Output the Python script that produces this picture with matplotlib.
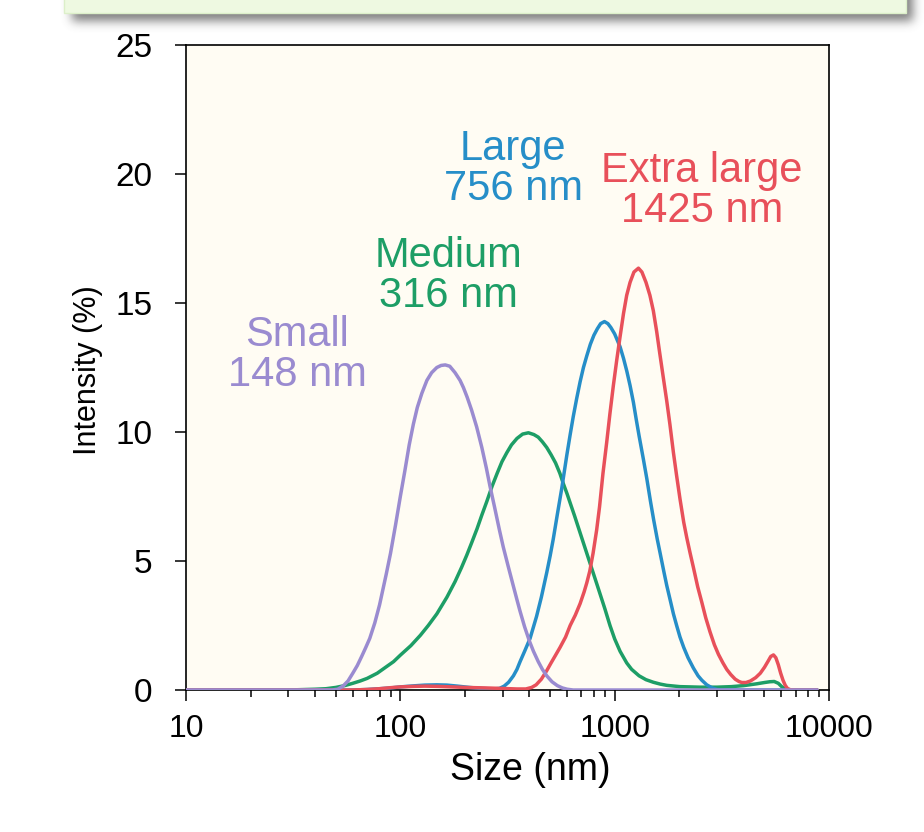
import numpy as np
import matplotlib
matplotlib.use("Agg")
import matplotlib.pyplot as plt
from matplotlib.patches import Rectangle
from matplotlib.ticker import FixedLocator, LogLocator, NullFormatter

plt.rcParams['font.family'] = ['Liberation Sans', 'DejaVu Sans']

# Size distributions by intensity (DLS), size in nm, intensity in %
small_size = [10, 40, 48, 51, 54, 57, 60, 63, 66, 69, 72, 76, 80, 86, 90, 95, 100, 105, 110,
              115, 120, 126, 133, 140, 148, 155, 162, 170, 180, 190, 197, 205, 215, 227, 240,
              252, 262, 275, 290, 302, 318, 335, 350, 362, 380, 400, 418, 440, 460, 482, 510,
              540, 570, 600, 640, 8800]
small_int = [0, 0, 0, 0.03, 0.15, 0.35, 0.65, 0.95, 1.3, 1.65, 2.0, 2.6, 3.3, 4.5, 5.3, 6.4,
             7.5, 8.5, 9.5, 10.3, 10.95, 11.5, 12.0, 12.3, 12.5, 12.58, 12.6, 12.55, 12.3,
             12.0, 11.72, 11.35, 10.85, 10.2, 9.4, 8.6, 7.9, 7.1, 6.2, 5.55, 4.82, 4.1, 3.5,
             3.05, 2.45, 1.9, 1.5, 1.1, 0.8, 0.55, 0.32, 0.17, 0.08, 0.03, 0, 0]

medium_size = [10, 30, 40, 45, 50, 55, 60, 65, 70, 78, 86, 93, 100, 112, 124, 135, 148, 165,
               180, 193, 204, 215, 228, 240, 253, 268, 283, 298, 314, 330, 350, 372, 396, 420,
               440, 460, 482, 505, 530, 555, 576, 600, 620, 650, 677, 720, 767, 830, 900, 951,
               1000, 1060, 1138, 1200, 1300, 1400, 1515, 1630, 1750, 2018, 2500, 3000, 3500,
               4000, 4600, 5000, 5300, 5550, 5800, 6000, 6200, 6500, 8800]
medium_int = [0, 0, 0.03, 0.05, 0.1, 0.17, 0.26, 0.35, 0.45, 0.65, 0.9, 1.1, 1.35, 1.72, 2.12,
              2.5, 2.95, 3.6, 4.2, 4.75, 5.22, 5.7, 6.25, 6.78, 7.3, 7.9, 8.4, 8.85, 9.2, 9.5,
              9.75, 9.92, 9.97, 9.9, 9.8, 9.62, 9.4, 9.12, 8.8, 8.4, 8.0, 7.6, 7.25, 6.75, 6.3,
              5.62, 4.92, 4.05, 3.15, 2.5, 1.98, 1.5, 1.05, 0.8, 0.55, 0.4, 0.3, 0.23, 0.18,
              0.13, 0.11, 0.11, 0.13, 0.17, 0.24, 0.29, 0.32, 0.33, 0.26, 0.14, 0.05, 0, 0]

large_size = [10, 60, 70, 80, 90, 100, 115, 130, 148, 165, 185, 210, 240, 270, 290, 305, 320,
              337, 350, 362, 380, 403, 432, 455, 482, 500, 517, 540, 566, 598, 620, 641, 665,
              690, 715, 741, 770, 800, 830, 860, 896, 930, 960, 1000, 1060, 1100, 1140, 1180,
              1223, 1260, 1300, 1361, 1412, 1470, 1520, 1580, 1630, 1700, 1750, 1820, 1880,
              1946, 2018, 2100, 2200, 2330, 2450, 2550, 2690, 2850, 3000, 3150, 8800]
large_int = [0, 0, 0.02, 0.05, 0.08, 0.12, 0.16, 0.19, 0.2, 0.19, 0.15, 0.1, 0.06, 0.04, 0.06,
             0.15, 0.3, 0.55, 0.8, 1.1, 1.5, 2.0, 2.85, 3.6, 4.55, 5.2, 5.85, 6.8, 7.8, 9.1,
             9.9, 10.6, 11.3, 11.95, 12.5, 12.95, 13.4, 13.75, 14.0, 14.2, 14.28, 14.2, 14.05,
             13.8, 13.3, 12.85, 12.35, 11.8, 11.15, 10.5, 9.85, 8.95, 8.2, 7.3, 6.6, 5.85, 5.3,
             4.55, 4.05, 3.45, 2.95, 2.5, 2.05, 1.65, 1.25, 0.85, 0.55, 0.38, 0.2, 0.08, 0.02,
             0, 0]

xlarge_size = [10, 60, 70, 80, 90, 100, 115, 130, 150, 175, 200, 250, 300, 350, 385, 410, 430,
               455, 482, 505, 530, 556, 590, 620, 655, 690, 720, 741, 765, 793, 824, 850, 882,
               918, 950, 986, 1023, 1060, 1100, 1138, 1180, 1230, 1291, 1340, 1400, 1460, 1515,
               1570, 1620, 1680, 1750, 1810, 1880, 1946, 2018, 2100, 2170, 2250, 2330, 2440,
               2550, 2660, 2786, 2920, 3050, 3200, 3333, 3480, 3650, 3800, 3918, 4100, 4300,
               4550, 4780, 5000, 5200, 5350, 5508, 5650, 5800, 5950, 6100, 6250, 6400, 6600,
               7000, 8800]
xlarge_int = [0, 0, 0.02, 0.05, 0.09, 0.12, 0.14, 0.15, 0.14, 0.12, 0.1, 0.08, 0.06, 0.04,
              0.04, 0.1, 0.2, 0.42, 0.75, 1.05, 1.35, 1.65, 2.05, 2.5, 2.9, 3.35, 3.8, 4.15, 4.6,
              5.3, 6.2, 7.1, 8.4, 9.6, 10.7, 11.8, 12.8, 13.7, 14.6, 15.3, 15.8, 16.2, 16.35,
              16.2, 15.8, 15.3, 14.7, 13.9, 13.1, 12.2, 11.2, 10.3, 9.2, 8.3, 7.4, 6.5, 5.9,
              5.3, 4.75, 4.0, 3.4, 2.8, 2.25, 1.75, 1.38, 1.05, 0.8, 0.6, 0.42, 0.33, 0.29,
              0.29, 0.35, 0.48, 0.65, 0.88, 1.12, 1.3, 1.36, 1.25, 0.98, 0.65, 0.38, 0.18, 0.06,
              0.01, 0, 0]

series_names = ["Small\n148 nm", "Medium\n316 nm", "Large\n756 nm", "Extra large\n1425 nm"]
colors = ["#9a8bd0", "#1d9e66", "#268ec8", "#e8505a"]
label_x = [33, 167, 336, 2560]
label_y = [13.0, 16.05, 20.2, 19.35]

x_ticks = [10, 100, 1000, 10000]
x_ticklabels = ["10", "100", "1000", "10000"]
y_ticks = [0, 5, 10, 15, 20, 25]

W, H = 924, 832
fig = plt.figure(figsize=(W / 100, H / 100), dpi=100)
fig.patch.set_facecolor("white")

# Header panel with soft drop shadow along the top edge
hdr = fig.add_axes([0, 1 - 40 / H, 1, 40 / H])
hdr.set_xlim(0, W)
hdr.set_ylim(40, 0)
hdr.axis("off")
yy, xx = np.mgrid[0:40, 0:W]
mask = ((xx >= 72) & (xx <= 912) & (yy <= 20)).astype(float)
k = np.exp(-0.5 * (np.arange(-15, 16) / 5.0) ** 2)
k /= k.sum()
pad = np.pad(mask, 15, mode="edge")
blur = np.apply_along_axis(lambda r: np.convolve(r, k, mode="same"), 1, pad)
blur = np.apply_along_axis(lambda c: np.convolve(c, k, mode="same"), 0, blur)[15:-15, 15:-15]
rgba = np.zeros((40, W, 4))
rgba[..., :3] = 0.33
rgba[..., 3] = blur * 0.75
hdr.imshow(rgba, extent=(0, W, 40, 0), interpolation="bilinear", aspect="auto")
hdr.add_patch(Rectangle((64, -10), 842, 23, facecolor="#eef9e1", edgecolor="#dcefc9", lw=1.0))

ax = fig.add_axes([186 / W, 1 - 690 / H, 643 / W, 645 / H])
ax.set_facecolor("#fffcf3")

order = [1, 2, 3, 0]
sizes = [small_size, medium_size, large_size, xlarge_size]
ints = [small_int, medium_int, large_int, xlarge_int]
for i in order:
    ax.plot(sizes[i], ints[i], color=colors[i], lw=2.5, solid_joinstyle="round",
            solid_capstyle="round", zorder=3 + order.index(i))

for i in range(4):
    ax.text(label_x[i], label_y[i], series_names[i], color=colors[i], fontsize=30,
            ha="center", va="center", linespacing=1.0, zorder=10)

ax.set_xscale("log")
ax.set_xlim(10, 10000)
ax.set_ylim(0, 25)
ax.xaxis.set_major_locator(FixedLocator(x_ticks))
ax.set_xticklabels(x_ticklabels)
ax.xaxis.set_minor_locator(LogLocator(base=10, subs=np.arange(2, 10)))
ax.xaxis.set_minor_formatter(NullFormatter())
ax.set_yticks(y_ticks)
ax.set_yticklabels([str(v) for v in y_ticks])

ax.tick_params(axis="both", which="major", direction="out", length=8, width=1.1,
               labelsize=23, color="black")
ax.tick_params(axis="y", which="major", pad=16, labelsize=24)
ax.tick_params(axis="x", which="minor", direction="out", length=5, width=1.1)
ax.tick_params(axis="x", which="major", pad=9)
for s in ax.spines.values():
    s.set_linewidth(1.2)
    s.set_color("black")

ax.set_xlabel("Size (nm)", fontsize=27)
ax.xaxis.set_label_coords((530 - 186) / 643, -(770 - 690) / 645)
ax.xaxis.label.set_va("center")
ax.set_ylabel("Intensity (%)", fontsize=22)
ax.yaxis.set_label_coords(-(186 - 88) / 643, (690 - 370) / 645)
ax.yaxis.label.set_va("center")

fig.savefig("out.png", dpi=100, facecolor="white")
